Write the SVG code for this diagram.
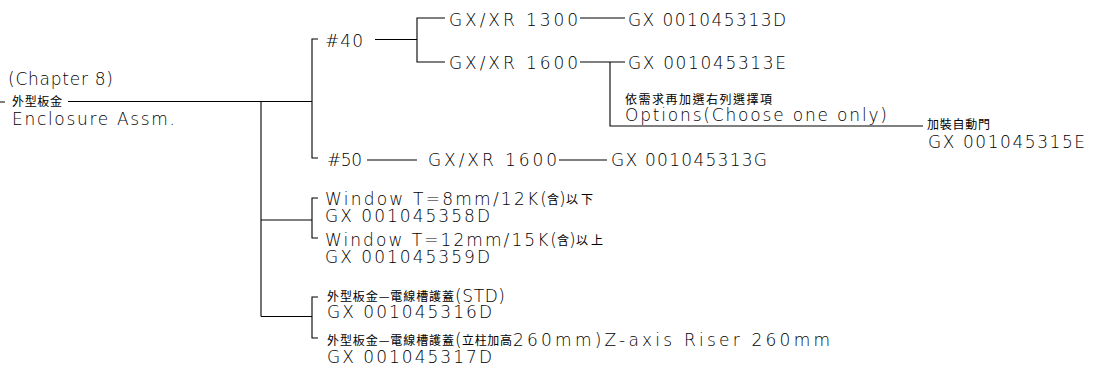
<svg xmlns="http://www.w3.org/2000/svg" width="1103" height="370" viewBox="0 0 1103 370">
<style>
.t{font-family:"DejaVu Sans","Liberation Sans",sans-serif;font-weight:200;font-size:17px;fill:#000}
.c{font-family:"Noto Sans CJK TC","Noto Sans CJK SC",sans-serif;font-weight:400;font-size:12px;fill:#000}
.ln{stroke:#000;stroke-width:1.1;fill:none}
</style>
<rect width="1103" height="370" fill="#fff"/>
<g id="connectors" class="ln">
<path d="M0 102H5M68 101.5H312"/>
<path d="M261 101.5V316.5"/>
<path d="M318 39H312V158H318"/>
<path d="M375 39.5H417M445 18H417V62H445"/>
<path d="M580 18H625M580 62H625M610 62V126H923"/>
<path d="M367 160H417M559 160H607"/>
<path d="M261 220H312M318 198H312V238H318"/>
<path d="M261 316.5H312M318 297H312V338H318"/>
</g>
<g id="root">
<text class="t" x="8" y="85" textLength="105">(Chapter  8)</text>
<text class="c" x="12" y="106" textLength="50">外型板金</text>
<text class="t" x="12" y="125" textLength="163">Enclosure  Assm.</text>
</g>
<g id="n40"><text class="t" x="325" y="47" textLength="38">#40</text></g>
<g id="n1300"><text class="t" x="449" y="26" textLength="129">GX/XR  1300</text></g>
<g id="n313D"><text class="t" x="628" y="26" textLength="158">GX  001045313D</text></g>
<g id="n1600a"><text class="t" x="449" y="69" textLength="129">GX/XR  1600</text></g>
<g id="n313E"><text class="t" x="628" y="69" textLength="158">GX  001045313E</text></g>
<g id="options">
<text class="c" x="625" y="104" textLength="147">依需求再加選右列選擇項</text>
<text class="t" x="625" y="121" textLength="262">Options(Choose  one  only)</text>
</g>
<g id="n315E">
<text class="c" x="927" y="129" textLength="63">加裝自動門</text>
<text class="t" x="928" y="148" textLength="157">GX  001045315E</text>
</g>
<g id="n50"><text class="t" x="327" y="166" textLength="35">#50</text></g>
<g id="n1600b"><text class="t" x="428" y="166" textLength="129">GX/XR  1600</text></g>
<g id="n313G"><text class="t" x="611" y="166" textLength="156">GX  001045313G</text></g>
<g id="w8">
<text class="t" x="325" y="205" textLength="222">Window  T=8mm/12K(</text>
<text class="c" x="547" y="204">含</text>
<text class="t" x="559" y="205">)</text>
<text class="c" x="566" y="204" textLength="27">以下</text>
<text class="t" x="325" y="222" textLength="165">GX  001045358D</text>
</g>
<g id="w12">
<text class="t" x="325" y="246" textLength="232">Window  T=12mm/15K(</text>
<text class="c" x="557" y="245">含</text>
<text class="t" x="569" y="246">)</text>
<text class="c" x="576" y="245" textLength="27">以上</text>
<text class="t" x="325" y="263" textLength="165">GX  001045359D</text>
</g>
<g id="std">
<text class="c" x="327" y="301" textLength="127">外型板金—電線槽護蓋</text>
<text class="t" x="455" y="302" textLength="50">(STD)</text>
<text class="t" x="327" y="318" textLength="165">GX  001045316D</text>
</g>
<g id="riser">
<text class="c" x="327" y="345" textLength="127">外型板金—電線槽護蓋</text>
<text class="t" x="455" y="346">(</text>
<text class="c" x="462" y="345" textLength="50">立柱加高</text>
<text class="t" x="513" y="346" textLength="317">260mm)Z-axis  Riser  260mm</text>
<text class="t" x="327" y="363" textLength="165">GX  001045317D</text>
</g>
</svg>
